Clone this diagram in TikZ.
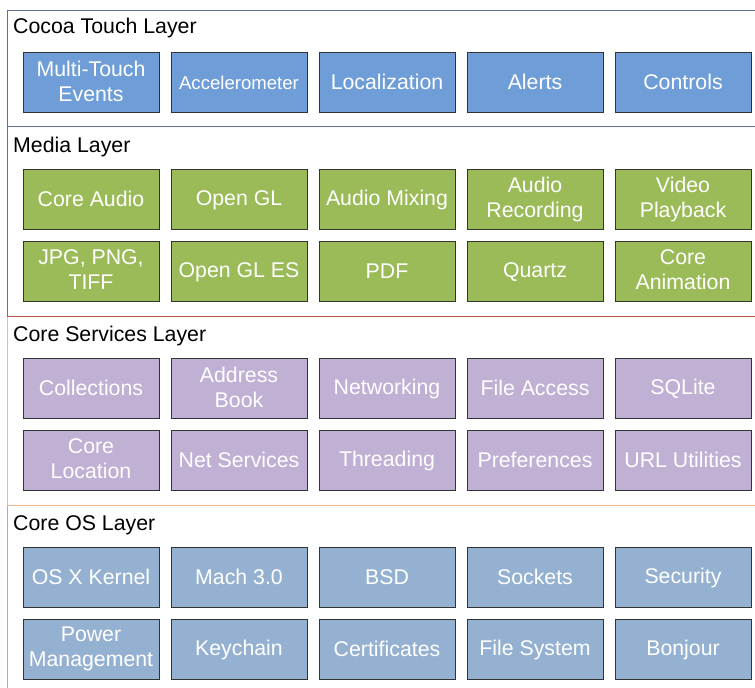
\documentclass[tikz,border=0pt]{standalone}
\usepackage{fontspec}
\setmainfont{Liberation Sans}
\definecolor{cocoafill}{RGB}{110,157,216}
\definecolor{mediafill}{RGB}{155,187,89}
\definecolor{svcfill}{RGB}{191,176,212}
\definecolor{osfill}{RGB}{149,177,209}
\definecolor{cocoaline}{RGB}{96,112,150}
\definecolor{medialine}{RGB}{192,80,77}
\definecolor{svcline}{RGB}{244,184,140}
\definecolor{osline}{RGB}{141,179,226}
\newcommand{\tstr}{\vrule height 17.6pt depth 2.2pt width 0pt}
\tikzset{
  cell/.style={draw=black!80, line width=0.9pt, minimum width=136pt, minimum height=60pt,
    inner sep=0pt, text=white, align=center,
    font=\fontsize{21.3}{25}\selectfont,
    execute at begin node=\tstr, execute at end node=\tstr},
  cocoa/.style={cell, fill=cocoafill},
  media/.style={cell, fill=mediafill},
  svc/.style={cell, fill=svcfill},
  os/.style={cell, fill=osfill},
  layertitle/.style={anchor=base west, inner sep=0pt, text=black, font=\fontsize{21.3}{25}\selectfont},
  panel/.style={line width=1pt}
}
\begin{document}
\begin{tikzpicture}[x=1pt,y=-1pt]
\useasboundingbox (0,0) rectangle (755,688);
\clip (0,0) rectangle (755,688);
% panels (bottom first so upper panel borders overlay)
\draw[panel, draw=osline] (7,505) rectangle (780,720);
\draw[panel, draw=svcline] (7,316) rectangle (780,505);
\draw[panel, draw=medialine] (7,126) rectangle (780,316);
\draw[panel, draw=cocoaline] (7,10) rectangle (780,126);
% titles
\node[layertitle] (tcocoa) at (13,33) {Cocoa Touch Layer};
\node[layertitle] (tmedia) at (13,152) {Media Layer};
\node[layertitle] (tsvc) at (13,341) {Core Services Layer};
\node[layertitle] (tos) at (13,530) {Core OS Layer};
% Cocoa Touch
\node[cocoa] (c1) at (91,82) {Multi-Touch\\Events};
\node[cocoa, font=\fontsize{18.6}{22}\selectfont] (c2) at (239,82) {Accelerometer};
\node[cocoa] (c3) at (387,82) {Localization};
\node[cocoa] (c4) at (535,82) {Alerts};
\node[cocoa] (c5) at (683,82) {Controls};
% Media
\node[media] (m1) at (91,199) {Core Audio};
\node[media] (m2) at (239,199) {Open GL};
\node[media] (m3) at (387,199) {Audio Mixing};
\node[media] (m4) at (535,199) {Audio\\Recording};
\node[media] (m5) at (683,199) {Video\\Playback};
\node[media] (m6) at (91,271) {JPG, PNG,\\TIFF};
\node[media] (m7) at (239,271) {Open GL ES};
\node[media] (m8) at (387,271) {PDF};
\node[media] (m9) at (535,271) {Quartz};
\node[media] (m10) at (683,271) {Core\\Animation};
% Core Services
\node[svc] (s1) at (91,388) {Collections};
\node[svc] (s2) at (239,388) {Address\\Book};
\node[svc] (s3) at (387,388) {Networking};
\node[svc] (s4) at (535,388) {File Access};
\node[svc] (s5) at (683,388) {SQLite};
\node[svc] (s6) at (91,460) {Core\\Location};
\node[svc] (s7) at (239,460) {Net Services};
\node[svc] (s8) at (387,460) {Threading};
\node[svc] (s9) at (535,460) {Preferences};
\node[svc] (s10) at (683,460) {URL Utilities};
% Core OS
\node[os] (o1) at (91,577) {OS X Kernel};
\node[os] (o2) at (239,577) {Mach 3.0};
\node[os] (o3) at (387,577) {BSD};
\node[os] (o4) at (535,577) {Sockets};
\node[os] (o5) at (683,577) {Security};
\node[os] (o6) at (91,649) {Power\\Management};
\node[os] (o7) at (239,649) {Keychain};
\node[os] (o8) at (387,649) {Certificates};
\node[os] (o9) at (535,649) {File System};
\node[os] (o10) at (683,649) {Bonjour};
\end{tikzpicture}
\end{document}
